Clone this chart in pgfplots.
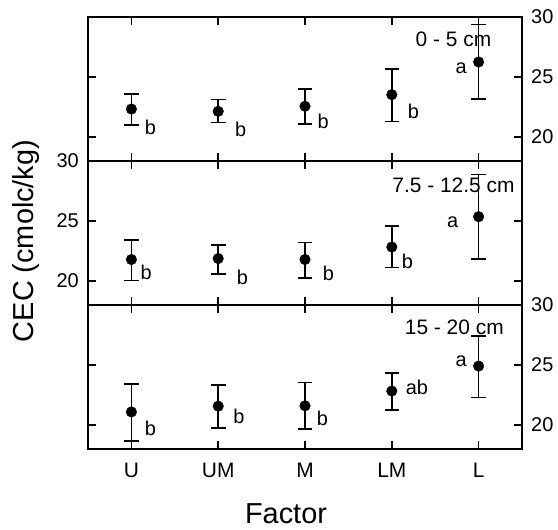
\documentclass[border=0pt]{standalone}
\usepackage{fontspec}
\setmainfont{Liberation Sans}
\usepackage{pgfplots}
\pgfplotsset{compat=1.18}
\usepackage{pgfplotstable}

% x: 0=U 1=UM 2=M 3=LM 4=L ; y mean, ep/em error bar up/down
\pgfplotstableread{
x y ep em
0 22.33 1.23 1.33
1 22.14 0.97 0.92
2 22.56 1.44 1.50
3 23.53 2.16 2.25
4 26.25 3.11 3.06
}\topdata
\pgfplotstableread{
x y ep em
0 21.79 1.64 1.76
1 21.87 1.15 1.27
2 21.79 1.42 1.52
3 22.83 1.76 1.70
4 25.36 3.51 3.55
}\middata
\pgfplotstableread{
x y ep em
0 21.09 2.34 2.43
1 21.57 1.77 1.83
2 21.60 1.94 1.91
3 22.83 1.51 1.57
4 24.91 2.52 2.62
}\botdata

\pgfplotsset{
  panel/.style={
    width=434bp, height=144bp, scale only axis,
    xmin=-0.5, xmax=4.5, ymin=18, ymax=30,
    xtick={0,1,2,3,4}, xticklabels={},
    ytick={20,25,30},
    tick align=inside, xtick pos=both,
    major tick length=8bp,
    tick style={line width=1.5bp, black},
    axis line style={line width=1.6bp},
    tick label style={font=\fontsize{20}{22}\selectfont, inner sep=0pt},
    xticklabel style={font=\fontsize{21}{23}\selectfont},
    /pgf/number format/assume math mode=true,
    yticklabel shift=9bp,
    xticklabel shift=14bp,
    clip=false,
  },
  pts/.style={only marks, mark=*, mark size=5.3bp, black,
    error bars/.cd, y dir=both, y explicit,
    error bar style={line width=1.6bp, black},
    error mark options={rotate=90, mark size=7.3bp, line width=1.6bp, black}},
}
\tikzset{
  lab/.style={font=\fontsize{20}{22}\selectfont, inner sep=0pt},
  depth/.style={font=\fontsize{21}{23}\selectfont, inner sep=0pt},
}

\begin{document}
\begin{tikzpicture}
\path[use as bounding box] (0,0) rectangle (558bp,530bp);

% top panel, 0 - 5 cm
\begin{axis}[panel, at={(88bp,369bp)}, anchor=south west,
  yticklabel pos=right, ytick pos=both]
\addplot[pts] table[x=x, y=y, y error plus=ep, y error minus=em]{\topdata};
\node[lab] at (axis cs:0.22,20.83) {b};
\node[lab] at (axis cs:1.26,20.60) {b};
\node[lab] at (axis cs:2.21,21.28) {b};
\node[lab] at (axis cs:3.25,22.10) {b};
\node[lab] at (axis cs:3.80,25.70) {a};
\node[depth] at (axis cs:3.71,28.10) {0 - 5 cm};
\end{axis}

% middle panel, 7.5 - 12.5 cm
\begin{axis}[panel, at={(88bp,225bp)}, anchor=south west,
  yticklabel pos=left, ytick pos=both]
\addplot[pts] table[x=x, y=y, y error plus=ep, y error minus=em]{\middata};
\node[lab] at (axis cs:0.17,20.69) {b};
\node[lab] at (axis cs:1.28,20.28) {b};
\node[lab] at (axis cs:2.27,20.63) {b};
\node[lab] at (axis cs:3.18,21.65) {b};
\node[lab] at (axis cs:3.70,24.86) {a};
\node[depth] at (axis cs:3.71,27.97) {7.5 - 12.5 cm};
\end{axis}

% bottom panel, 15 - 20 cm
\begin{axis}[panel, at={(88bp,81bp)}, anchor=south west,
  yticklabel pos=right, ytick pos=both,
  xticklabels={U,UM,M,LM,L}]
\addplot[pts] table[x=x, y=y, y error plus=ep, y error minus=em]{\botdata};
\node[lab] at (axis cs:0.22,19.71) {b};
\node[lab] at (axis cs:1.24,20.71) {b};
\node[lab] at (axis cs:2.20,20.52) {b};
\node[lab] at (axis cs:3.29,23.14) {ab};
\node[lab] at (axis cs:3.80,25.34) {a};
\node[depth] at (axis cs:3.72,28.11) {15 - 20 cm};
\end{axis}

\node[rotate=90, anchor=base, font=\fontsize{29}{31}\selectfont] at (33bp,289bp) {CEC (cmolc/kg)};
\node[anchor=base, font=\fontsize{29}{31}\selectfont] at (286bp,7bp) {Factor};
\end{tikzpicture}
\end{document}
